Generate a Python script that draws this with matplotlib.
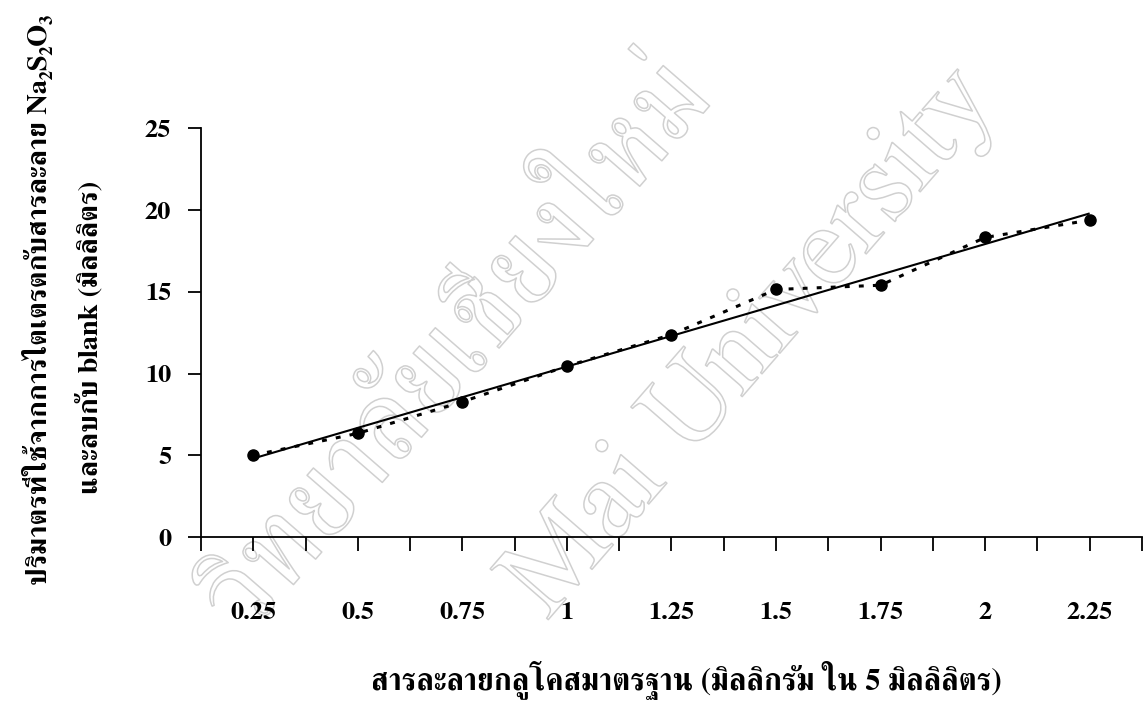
import numpy as np
import matplotlib
matplotlib.use("Agg")
import matplotlib.pyplot as plt
from matplotlib.ticker import FixedLocator, NullFormatter
import matplotlib.patheffects as pe

# glucose standard (mg in 5 ml) and titrant volume minus blank (ml)
glucose = ["0.25", "0.5", "0.75", "1", "1.25", "1.5", "1.75", "2", "2.25"]
volume = [5.0, 6.34, 8.27, 10.45, 12.38, 15.14, 15.40, 18.32, 19.38]

xlabel = "สารละลายกลูโคสมาตรฐาน (มิลลิกรัม ใน 5 มิลลิลิตร)"
ylabel_1 = "ปริมาตรที่ใช้จากการไตเตรตกับสารละลาย Na₂S₂O₃"
ylabel_2 = "และลบกับ blank (มิลลิลิตร)"

plt.rcParams['font.family'] = ['FreeSerif', 'Liberation Serif', 'DejaVu Serif']

fig = plt.figure(figsize=(11.47, 7.02), dpi=100)

# faint outlined university watermark behind the chart
wm = dict(color='white', fontsize=84, rotation=49, rotation_mode='anchor',
          ha='center', va='center', zorder=0,
          path_effects=[pe.Stroke(linewidth=1.1, foreground='#d0d0d0')])
fig.text(0.40, 0.50, "วิทยาลัยเชียงใหม่", **wm)
fig.text(0.655, 0.51, "Mai University", **wm)

ax = fig.add_axes([0.1752, 0.235, 0.8204, 0.5823])
ax.set_zorder(1)
ax.patch.set_alpha(0)

x = np.arange(1, len(glucose) + 1)
y = np.array(volume)

# linear trend through the measured points
k, b = np.polyfit(x, y, 1)
ax.plot([x[0], x[-1]], [k * x[0] + b, k * x[-1] + b], color='black', lw=1.5,
        solid_capstyle='butt')
ax.plot(x, y, color='black', lw=2.2, linestyle=(0, (1.6, 3.0)),
        dash_capstyle='butt', marker='o', markersize=8)

ax.set_xlim(0.5, len(glucose) + 0.5)
ax.set_ylim(0, 25)
ax.set_yticks([0, 5, 10, 15, 20, 25])
ax.xaxis.set_major_locator(FixedLocator(x))
ax.xaxis.set_minor_locator(FixedLocator(np.arange(0.5, len(glucose) + 1, 1)))
ax.xaxis.set_minor_formatter(NullFormatter())
ax.set_xticklabels(glucose)

for side in ['top', 'right']:
    ax.spines[side].set_visible(False)
for side in ['left', 'bottom']:
    ax.spines[side].set_linewidth(1.3)

ax.tick_params(axis='x', which='both', direction='out', length=10, width=1.3,
               pad=37, labelsize=19)
ax.tick_params(axis='y', direction='out', length=9.5, width=1.3, pad=12,
               labelsize=19)
for lab in ax.get_xticklabels() + ax.get_yticklabels():
    lab.set_fontweight('bold')

fig.text(0.598, 0.032, xlabel, ha='center', va='center', fontsize=22,
         fontweight='bold')
fig.text(0.033, 1 - 300 / 702, ylabel_1, ha='center', va='center', rotation=90,
         fontsize=20.5, fontweight='bold')
fig.text(0.078, 1 - 337 / 702, ylabel_2, ha='center', va='center', rotation=90,
         fontsize=20.5, fontweight='bold')

fig.savefig("out.png", dpi=100)
